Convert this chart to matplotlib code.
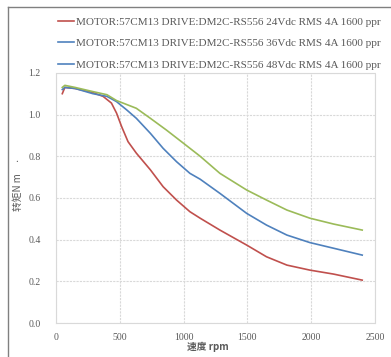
import matplotlib
matplotlib.use("Agg")
import matplotlib.pyplot as plt
from matplotlib.lines import Line2D

# speed (rpm) vs torque (N.m)
rpm_24v = [50, 70, 150, 290, 370, 435, 475, 515, 565, 630, 740, 840, 945, 1050, 1130,
           1285, 1495, 1650, 1810, 1990, 2175, 2400]
torque_24v = [1.10, 1.13, 1.125, 1.105, 1.087, 1.055, 1.007, 0.942, 0.87, 0.815, 0.735,
              0.654, 0.59, 0.534, 0.503, 0.446, 0.374, 0.318, 0.278, 0.254, 0.235, 0.206]

rpm_36v = [50, 70, 150, 290, 400, 475, 555, 630, 740, 840, 945, 1050, 1130, 1285, 1495,
           1650, 1810, 1990, 2175, 2400]
torque_36v = [1.12, 1.13, 1.125, 1.10, 1.087, 1.062, 1.022, 0.982, 0.91, 0.838, 0.774,
              0.718, 0.69, 0.622, 0.526, 0.47, 0.422, 0.386, 0.359, 0.326]

rpm_48v = [50, 70, 150, 290, 400, 475, 580, 630, 740, 865, 1000, 1130, 1285, 1495, 1650,
           1810, 1990, 2175, 2400]
torque_48v = [1.13, 1.14, 1.13, 1.11, 1.095, 1.067, 1.042, 1.03, 0.982, 0.926, 0.862,
              0.80, 0.718, 0.638, 0.59, 0.542, 0.503, 0.475, 0.446]

labels = [
    "MOTOR:57CM13 DRIVE:DM2C-RS556 24Vdc RMS 4A 1600 ppr",
    "MOTOR:57CM13 DRIVE:DM2C-RS556 36Vdc RMS 4A 1600 ppr",
    "MOTOR:57CM13 DRIVE:DM2C-RS556 48Vdc RMS 4A 1600 ppr",
]
x_ticks = [0, 500, 1000, 1500, 2000, 2500]
y_ticks = [0.0, 0.2, 0.4, 0.6, 0.8, 1.0, 1.2]

RED = "#c0504d"
BLUE = "#4f81bd"
GREEN = "#9bbb59"
TICK_GRAY = "#595959"
GRID_GRAY = "#d9d9d9"

plt.rcParams["font.family"] = ["Liberation Serif", "Noto Sans CJK SC"]

fig = plt.figure(figsize=(3.91, 3.57), dpi=100)
ax = fig.add_axes([0.143, 0.095, 0.816, 0.701])

ax.plot(rpm_24v, torque_24v, color=RED, lw=1.2)
ax.plot(rpm_36v, torque_36v, color=BLUE, lw=1.2)
ax.plot(rpm_48v, torque_48v, color=GREEN, lw=1.2)

ax.set_xlim(0, 2500)
ax.set_ylim(0, 1.2)
ax.set_xticks(x_ticks)
ax.set_yticks(y_ticks)
ax.set_yticklabels([f"{v:.1f}" for v in y_ticks])
ax.tick_params(length=0, labelsize=7, colors=TICK_GRAY)
ax.tick_params(axis="x", pad=7)
ax.tick_params(axis="y", pad=11)
ax.grid(True, color=GRID_GRAY, linestyle=(0, (2, 1)), linewidth=0.8)
for sp in ax.spines.values():
    sp.set_color(GRID_GRAY)
    sp.set_linestyle((0, (2, 1)))
    sp.set_linewidth(0.8)

# the original legend shows the third handle in blue
handles = [Line2D([], [], color=c, lw=1.2) for c in (RED, BLUE, BLUE)]
fig.legend(handles, labels, loc="upper left", bbox_to_anchor=(58 / 391, 1 - 17 / 357),
           frameon=False, fontsize=8, borderpad=0, borderaxespad=0,
           handlelength=1.4, handletextpad=0.2, labelspacing=1.05,
           labelcolor=TICK_GRAY)

fig.text(208 / 391, 1 - 347 / 357, "速度 rpm", ha="center", va="center",
         fontsize=7, color=TICK_GRAY, family=["Noto Sans CJK SC", "Liberation Serif"],
         fontweight="bold")
fig.text(18 / 391, 1 - 192 / 357, "转矩N m", ha="center", va="center", rotation=90,
         fontsize=7, color=TICK_GRAY, family=["Noto Sans CJK SC", "Liberation Serif"])
fig.text(17 / 391, 1 - 160 / 357, ".", ha="center", va="center", fontsize=8,
         color=TICK_GRAY)

# outer frame: only the left and top edges show in the reference
fig.add_artist(Line2D([8 / 391, 8 / 391], [0, 1 - 7 / 357], color="#808080", lw=1))
fig.add_artist(Line2D([8 / 391, 1], [1 - 7 / 357, 1 - 7 / 357], color="#808080", lw=1))

fig.savefig("out.png", dpi=100)
